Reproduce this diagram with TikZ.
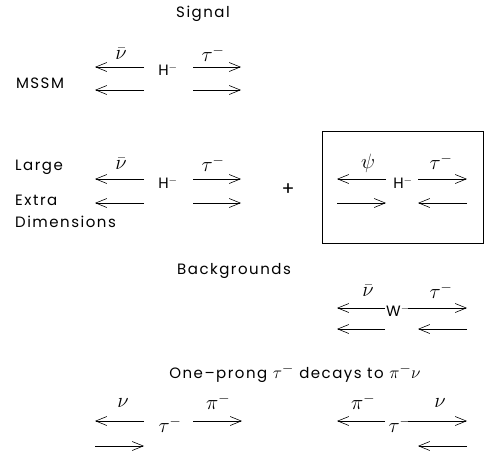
\documentclass[tikz,border=0pt]{standalone}
\usepackage{fontspec}
\setmainfont{Poppins}[LetterSpace=10]
\usetikzlibrary{arrows.meta}
\newcommand\myarr[4]{%
  \coordinate (#1-a) at (#2,#4);
  \coordinate (#1-b) at (#3,#4);
  \draw[arr] (#1-a) -- (#1-b);}
\newcommand\mybigmath[1]{{\fontsize{19}{20}\selectfont$#1$}}
\begin{document}
\begin{tikzpicture}[x=1pt,y=-1pt,
  txt/.style={font=\fontsize{15}{18}\selectfont, inner sep=0pt},
  mth/.style={font=\fontsize{20}{22}\selectfont, inner sep=0pt},
  arr/.style={-{Straight Barb[length=11pt,width=9pt,line width=0.6pt]}, line width=0.6pt}]
\useasboundingbox (0,0) rectangle (485,456);

% Signal / MSSM
\node[txt] (signal) at (203,14) {Signal};
\node[txt] (mssm) at (40,83) {MSSM};
\myarr{m1}{144}{95}{67}
\myarr{m2}{193}{241}{67}
\myarr{m3}{144}{95}{90}
\myarr{m4}{193}{241}{90}
\node[txt] (mH) at (168,70) {H$^-$};
\node[mth] (mnu) at (121,54) {$\bar\nu$};
\node[mth] (mtau) at (213,54) {$\tau^-$};

% Large extra dimensions
\node[txt,anchor=west] (large) at (15,167) {Large};
\node[txt,anchor=west] (extra) at (15,200) {Extra};
\node[txt,anchor=west] (dims) at (15,222) {Dimensions};
\myarr{l1}{144}{95}{179}
\myarr{l2}{193}{241}{179}
\myarr{l3}{144}{95}{203}
\myarr{l4}{193}{241}{203}
\node[txt] (lH) at (168,183) {H$^-$};
\node[mth] (lnu) at (121,164) {$\bar\nu$};
\node[mth] (ltau) at (213,164) {$\tau^-$};
\node[font=\fontsize{19}{20}\selectfont,inner sep=0pt] (plus) at (288,190) {+};

% boxed
\draw[line width=0.8pt] (322,131) rectangle (483,243);
\myarr{b1}{386}{337}{179}
\myarr{b2}{418}{467}{179}
\myarr{b3}{337}{386}{203}
\myarr{b4}{467}{418}{203}
\node[txt] (bH) at (403,183) {H$^-$};
\node[mth] (bpsi) at (368,163) {$\psi$};
\node[mth] (btau) at (441,162) {$\tau^-$};

% Backgrounds
\node[txt] (bkg) at (234,271) {Backgrounds};
\myarr{w1}{385}{337}{308}
\myarr{w2}{408}{467}{308}
\myarr{w3}{385}{337}{329}
\myarr{w4}{467}{418}{329}
\node[txt] (wW) at (398,311) {W$^-$};
\node[mth] (wnu) at (368,291) {$\bar\nu$};
\node[mth] (wtau) at (441,291) {$\tau^-$};

% One-prong
\node[txt] (onep) at (295,373) {One--prong \mybigmath{\tau^-} decays to \mybigmath{\pi^-\nu}};
\myarr{o1}{144}{95}{421}
\myarr{o2}{193}{242}{421}
\myarr{o3}{95}{144}{446}
\node[mth] (onu) at (123,403) {$\nu$};
\node[mth] (otau) at (170,425) {$\tau^-$};
\node[mth] (opi) at (218,402) {$\pi^-$};
\myarr{p1}{385}{337}{421}
\myarr{p2}{408}{467}{421}
\myarr{p3}{467}{418}{446}
\node[mth] (ppi) at (363,402) {$\pi^-$};
\node[mth] (ptau) at (400,425) {$\tau^-$};
\node[mth] (pnu) at (440,403) {$\nu$};
\end{tikzpicture}
\end{document}
